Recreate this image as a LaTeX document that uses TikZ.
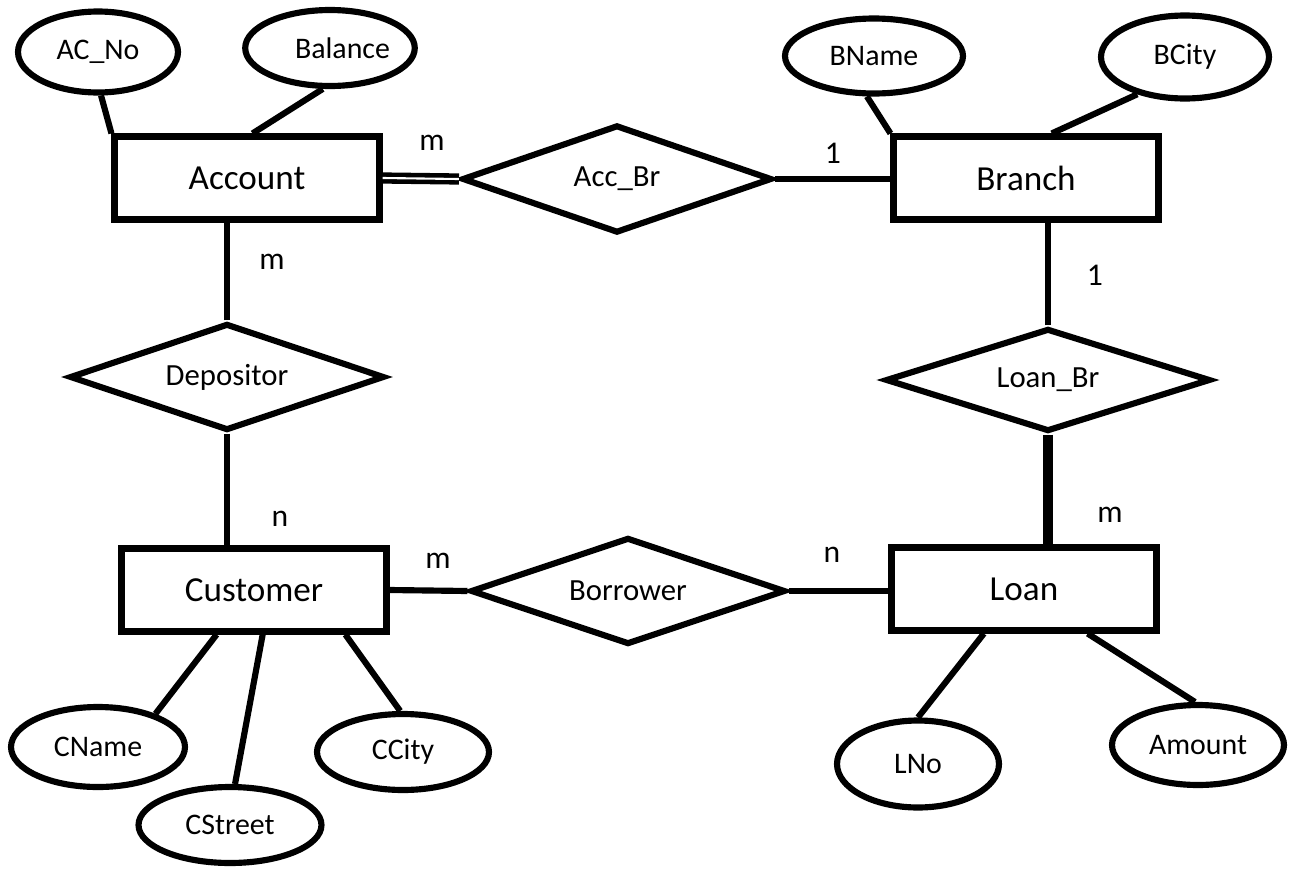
\documentclass[tikz,border=0pt]{standalone}
\usepackage{fontspec}
\setmainfont{Carlito}
\usetikzlibrary{shapes.geometric}
\begin{document}
\begin{tikzpicture}[x=0.02cm,y=-0.02cm,line width=3.5pt,
	entity/.style={draw,rectangle,minimum width=5.3cm,minimum height=1.66cm,inner sep=0pt,font=\fontsize{20}{24}\selectfont},
	relation/.style={draw,diamond,shape aspect=3,inner sep=0pt,font=\fontsize{17.5}{20}\selectfont},
	attrib/.style={draw,ellipse,inner sep=0pt,font=\fontsize{17}{20}\selectfont},
	card/.style={font=\fontsize{18}{22}\selectfont}]
	\useasboundingbox (0,0) rectangle (1312,869);
	% entities
	\node[entity] (account) at (247,178) {Account};
	\node[entity] (branch) at (1026,178) {Branch};
	\node[entity] (customer) at (254,590) {Customer};
	\node[entity] (loan) at (1024,589) {Loan};
	% relationships
	\node[relation,minimum width=6.2cm,minimum height=2.16cm] (accbr) at (617,179) {Acc\_Br};
	\node[relation,minimum width=6.3cm,minimum height=2.14cm] (depositor) at (227,377) {Depositor};
	\node[relation,minimum width=6.5cm,minimum height=2.06cm] (loanbr) at (1048,380) {Loan\_Br};
	\node[relation,minimum width=6.3cm,minimum height=2.14cm] (borrower) at (628,591) {Borrower};
	% attributes
	\node[attrib,minimum width=3.2cm,minimum height=1.62cm] (acno) at (98,52) {AC\_No};
	\node[attrib,minimum width=3.24cm,minimum height=1.52cm] (balance) at (330,48) {\hspace{0.5cm}Balance};
	\node[attrib,minimum width=3.56cm,minimum height=1.5cm] (bname) at (874,56) {BName};
	\node[attrib,minimum width=3.36cm,minimum height=1.66cm] (bcity) at (1185,57) {BCity};
	\node[attrib,minimum width=3.48cm,minimum height=1.6cm] (cname) at (98,747) {CName};
	\node[attrib,minimum width=3.66cm,minimum height=1.52cm] (cstreet) at (230,825) {CStreet};
	\node[attrib,minimum width=3.44cm,minimum height=1.52cm] (ccity) at (403,752) {CCity};
	\node[attrib,minimum width=3.24cm,minimum height=1.74cm] (lno) at (918,764) {LNo};
	\node[attrib,minimum width=3.44cm,minimum height=1.6cm] (amount) at (1198,745) {Amount};
	% attribute links
	\draw (acno.-86) -- (account.north west);
	\draw (balance.-100) -- (account.83);
	\draw (bname.-100) -- (branch.north west);
	\draw (bcity.-142) -- (branch.60);
	\draw (customer.-130) -- (cname.30);
	\draw (customer.-79) -- (cstreet.83);
	\draw (customer.-26) -- (ccity.94);
	\draw (loan.-132) -- (lno.90);
	\draw (loan.-35) -- (amount.94);
	% relationship links
	\draw[double,double distance=1.2pt,line width=2.6pt] (account.east) -- (accbr.west);
	\draw (accbr.east) -- (accbr.east -| branch.west);
	\draw (depositor.north) -- (depositor.north |- account.south);
	\draw (depositor.south) -- (depositor.south |- customer.north);
	\draw (loanbr.north) -- (loanbr.north |- branch.south);
	\draw[line width=5.6pt] (loanbr.south) -- (loanbr.south |- loan.north);
	\draw (customer.east) -- (borrower.west);
	\draw (borrower.east) -- (borrower.east -| loan.west);
	% cardinalities
	\node[card] (c1) at (432,143) {m};
	\node[card] (c2) at (833,153) {1};
	\node[card] (c3) at (272,262) {m};
	\node[card] (c4) at (1095,275) {1};
	\node[card] (c5) at (280,519) {n};
	\node[card] (c6) at (1110,515) {m};
	\node[card] (c7) at (438,561) {m};
	\node[card] (c8) at (832,555) {n};
\end{tikzpicture}
\end{document}
